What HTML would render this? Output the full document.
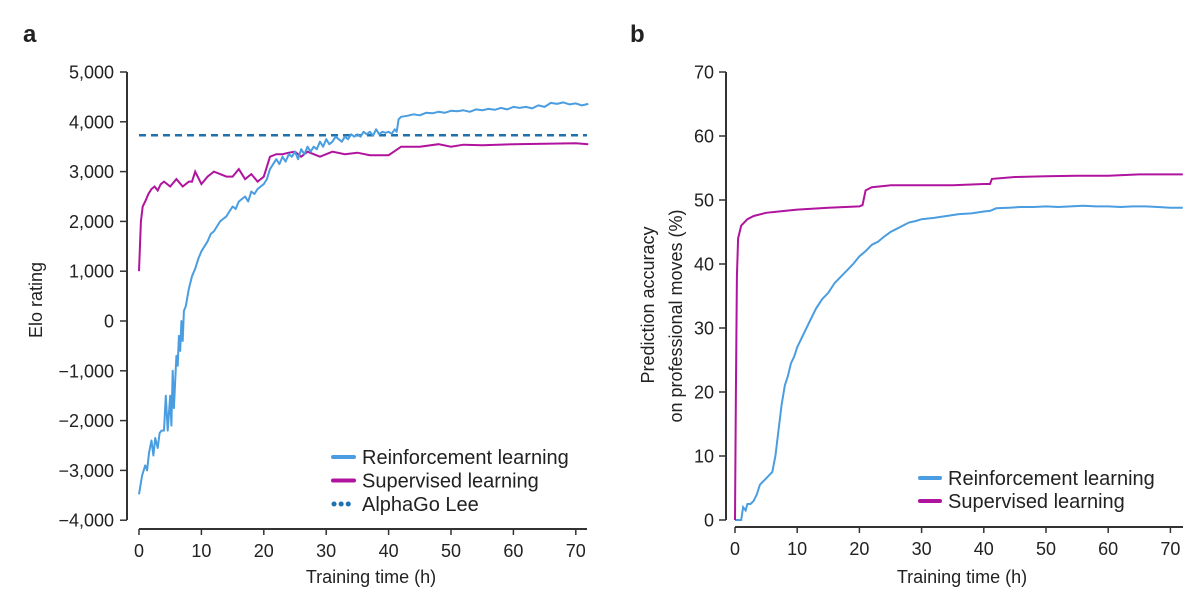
<!DOCTYPE html>
<html><head><meta charset="utf-8"><style>
html,body{margin:0;padding:0;background:#fff}
svg{display:block;font-family:"Liberation Sans",Arial,sans-serif}
</style></head><body>
<svg id="fig" width="1200" height="597" viewBox="0 0 1200 597">
<text x="23" y="42" font-size="24" font-weight="bold" fill="#222">a</text>
<text x="630" y="42" font-size="24" font-weight="bold" fill="#222">b</text>
<g id="ga"></g>
<g id="gb"></g>
</svg>
<script>
// Panel a data
const aYTicks = [5000,4000,3000,2000,1000,0,-1000,-2000,-3000,-4000];
const aYTickLabels = ["5,000","4,000","3,000","2,000","1,000","0","\u22121,000","\u22122,000","\u22123,000","\u22124,000"];
const xTicks = [0,10,20,30,40,50,60,70];
const aRLx = [0,0.5,1,1.3,1.6,2,2.3,2.6,3,3.3,3.6,4,4.3,4.6,5,5.2,5.4,5.6,5.8,6,6.2,6.4,6.6,6.8,7,7.2,7.5,8,8.5,9,9.5,10,10.5,11,11.5,12,12.5,13,13.5,14,14.5,15,15.5,16,16.5,17,17.5,18,18.5,19,19.5,20,20.5,21,21.5,22,22.5,23,23.5,24,24.5,25,25.5,26,26.5,27,27.5,28,28.5,29,29.5,30,30.5,31,31.5,32,32.5,33,33.5,34,34.5,35,35.5,36,36.5,37,37.5,38,38.5,39,39.5,40,40.5,41,41.3,41.6,42,43,44,45,46,47,48,49,50,51,52,53,54,55,56,57,58,59,60,61,62,63,64,65,66,67,68,69,70,71,72];
const aRLy = [-3480,-3100,-2900,-3000,-2650,-2400,-2700,-2350,-2550,-2250,-2200,-2200,-1500,-2200,-1500,-2100,-1000,-1750,-1200,-700,-900,-300,-600,0,-400,200,300,650,900,1050,1250,1400,1500,1600,1750,1800,1900,2000,2050,2100,2200,2300,2250,2400,2450,2500,2400,2600,2550,2650,2700,2750,2850,3050,3150,3250,3150,3300,3200,3350,3300,3400,3250,3450,3350,3500,3400,3500,3450,3600,3500,3650,3550,3600,3700,3650,3600,3700,3650,3750,3700,3750,3700,3800,3750,3800,3720,3850,3750,3800,3780,3800,3760,3850,3800,4050,4100,4120,4150,4130,4180,4170,4200,4180,4220,4210,4230,4200,4250,4230,4260,4240,4280,4250,4300,4280,4300,4270,4330,4300,4380,4360,4390,4350,4370,4330,4360];
const aSLx = [0,0.3,0.6,1,1.5,2,2.5,3,3.5,4,5,6,7,8,8.5,9,10,11,12,13,14,15,16,17,18,19,20,21,22,23,24,25,26,27,28,29,31,33,35,37,40,42,45,48,50,52,55,60,65,70,72];
const aSLy = [1000,2000,2300,2400,2550,2650,2700,2620,2750,2800,2700,2850,2700,2800,2800,3000,2750,2900,3000,2950,2900,2900,3050,2850,2950,2800,2900,3300,3350,3350,3380,3400,3300,3400,3350,3300,3400,3350,3380,3330,3330,3500,3500,3550,3500,3540,3530,3550,3560,3570,3550];
const aLee = [3730];
// Panel b data
const bYTicks = [70,60,50,40,30,20,10,0];
const bRLx = [0,1,1.3,1.7,2,2.5,3,3.5,4,4.5,5,5.5,6,6.5,7,7.5,8,8.5,9,9.5,10,11,12,13,14,15,16,17,18,19,20,21,22,23,24,25,26,27,28,29,30,32,34,36,38,40,41,42,44,46,48,50,52,54,56,58,60,62,64,66,68,70,72];
const bRLy = [0,0,2,1.5,2.5,2.5,3,4,5.5,6,6.5,7,7.5,10,14,18,21,22.5,24.5,25.5,27,29,31,33,34.5,35.5,37,38,39,40,41.2,42,43,43.5,44.3,45,45.5,46,46.5,46.7,47,47.2,47.5,47.8,47.9,48.2,48.3,48.7,48.8,48.9,48.9,49,48.9,49,49.1,49,49,48.9,49,49,48.9,48.8,48.8];
const bSLx = [0,0.15,0.3,0.5,1,2,3,5,8,10,15,20,20.5,21,22,25,30,35,40,41,41.3,45,50,55,60,65,70,72];
const bSLy = [0,20,38,44,46,47,47.5,48,48.3,48.5,48.8,49,49.2,51.5,52,52.3,52.3,52.3,52.5,52.5,53.3,53.6,53.7,53.8,53.8,54,54,54];

const NS="http://www.w3.org/2000/svg";
function mk(parent,tag,attrs){const e=document.createElementNS(NS,tag);for(const k in attrs)e.setAttribute(k,attrs[k]);parent.appendChild(e);return e;}
function path(xs,ys,fx,fy){return xs.map((x,i)=>(i?'L':'M')+fx(x).toFixed(1)+','+fy(ys[i]).toFixed(1)).join('');}

// Panel a scales
const axA = v=>139+v*6.24;
const ayA = v=>321-v*0.0498;
const ga=document.getElementById('ga');
let e;
e=mk(ga,'line',{x1:127,y1:72,x2:127,y2:520,stroke:'#333','stroke-width':2});


e=mk(ga,'line',{x1:139,y1:529,x2:587,y2:529,stroke:'#333','stroke-width':2});


aYTicks.forEach((t,i)=>{
  mk(ga,'line',{x1:120,y1:ayA(t),x2:127,y2:ayA(t),stroke:'#333','stroke-width':1.5});
  e=mk(ga,'text',{x:114,y:ayA(t)+6.5,'text-anchor':'end','font-size':18,fill:'#222'});
  e.textContent=aYTickLabels[i];
  
  
});
xTicks.forEach(t=>{
  mk(ga,'line',{x1:axA(t),y1:529,x2:axA(t),y2:535,stroke:'#333','stroke-width':1.5});
  e=mk(ga,'text',{x:axA(t),y:557,'text-anchor':'middle','font-size':18,fill:'#222'});
  e.textContent=t;
  
  
});
e=mk(ga,'text',{x:0,y:0,'text-anchor':'middle','font-size':18,fill:'#222',transform:'translate(42,300) rotate(-90)'});
e.textContent='Elo rating';


e=mk(ga,'text',{x:371,y:583,'text-anchor':'middle','font-size':18,fill:'#222'});
e.textContent='Training time (h)';


e=mk(ga,'line',{x1:axA(0),y1:ayA(aLee[0]),x2:587,y2:ayA(aLee[0]),stroke:'#1f72b0','stroke-width':2.5,'stroke-dasharray':'7,5'});


e=mk(ga,'path',{d:path(aSLx,aSLy,axA,ayA),fill:'none',stroke:'#b0139e','stroke-width':2});


e=mk(ga,'path',{d:path(aRLx,aRLy,axA,ayA),fill:'none',stroke:'#4a9de0','stroke-width':2,'stroke-linejoin':'round'});


// legend a
const legA=[['Reinforcement learning','#4a9de0',null],['Supervised learning','#b0139e',null],['AlphaGo Lee','#1f72b0','3,3']];
legA.forEach((l,i)=>{
  const y=457+i*23.5;
  const a={x1:333,y1:y,x2:354,y2:y,stroke:l[1],'stroke-width':4,'stroke-linecap':'round'};
  if(l[2]){a['stroke-dasharray']='0.1,7';a['stroke-width']=5;a.x1=334;a.x2=355;}
  e=mk(ga,'line',a);
  
  
  e=mk(ga,'text',{x:362,y:y+7,'font-size':20,fill:'#222'});
  e.textContent=l[0];
  
  
});

// Panel b
const axB = v=>735+v*6.22;
const ayB = v=>520-v*6.4;
const gb=document.getElementById('gb');
e=mk(gb,'line',{x1:726,y1:72,x2:726,y2:520,stroke:'#333','stroke-width':2});


e=mk(gb,'line',{x1:735,y1:527,x2:1183,y2:527,stroke:'#333','stroke-width':2});


bYTicks.forEach(t=>{
  mk(gb,'line',{x1:719,y1:ayB(t),x2:726,y2:ayB(t),stroke:'#333','stroke-width':1.5});
  e=mk(gb,'text',{x:714,y:ayB(t)+6.5,'text-anchor':'end','font-size':18,fill:'#222'});
  e.textContent=t;
  
  
});
xTicks.forEach(t=>{
  mk(gb,'line',{x1:axB(t),y1:527,x2:axB(t),y2:533,stroke:'#333','stroke-width':1.5});
  e=mk(gb,'text',{x:axB(t),y:555,'text-anchor':'middle','font-size':18,fill:'#222'});
  e.textContent=t;
  
  
});
e=mk(gb,'text',{x:0,y:0,'text-anchor':'middle','font-size':18,fill:'#222',transform:'translate(654,305) rotate(-90)'});
e.textContent='Prediction accuracy';


e=mk(gb,'text',{x:0,y:0,'text-anchor':'middle','font-size':18,fill:'#222',transform:'translate(682,316) rotate(-90)'});
e.textContent='on professional moves (%)';


e=mk(gb,'text',{x:962,y:583,'text-anchor':'middle','font-size':18,fill:'#222'});
e.textContent='Training time (h)';


e=mk(gb,'path',{d:path(bRLx,bRLy,axB,ayB),fill:'none',stroke:'#4a9de0','stroke-width':2});


e=mk(gb,'path',{d:path(bSLx,bSLy,axB,ayB),fill:'none',stroke:'#b0139e','stroke-width':2});


const legB=[['Reinforcement learning','#4a9de0'],['Supervised learning','#b0139e']];
legB.forEach((l,i)=>{
  const y=478+i*23;
  e=mk(gb,'line',{x1:920,y1:y,x2:940,y2:y,stroke:l[1],'stroke-width':4,'stroke-linecap':'round'});
  
  
  e=mk(gb,'text',{x:948,y:y+7,'font-size':20,fill:'#222'});
  e.textContent=l[0];
  
  
});
</script>
</body></html>
